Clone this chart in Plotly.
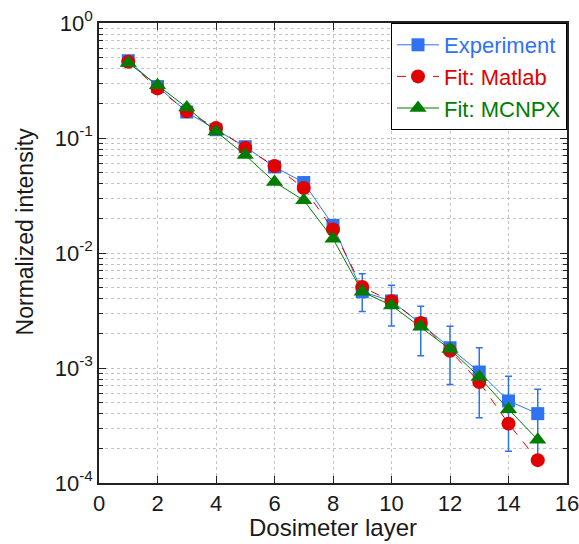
import plotly.graph_objects as go

layers = list(range(1, 16))

experiment = [0.47, 0.28, 0.168, 0.118, 0.084, 0.056, 0.041, 0.0174,
              0.0046, 0.00383, 0.00243, 0.00150, 0.000923, 0.000517, 0.000401]
exp_upper = [None, None, None, None, None, None, None, None,
             0.0066, 0.00524, 0.00344, 0.00231, 0.0015, 0.000847, 0.000653]
exp_lower = [None, None, None, None, None, None, None, None,
             0.0031, 0.00232, 0.00128, 0.00072, 0.00037, 0.000189, 0.00016]

fit_matlab = [0.46, 0.27, 0.171, 0.122, 0.082, 0.057, 0.0367, 0.016,
              0.00506, 0.0038, 0.00246, 0.00141, 0.000756, 0.000328, 0.000158]

fit_mcnpx = [0.45, 0.287, 0.184, 0.114, 0.071, 0.0414, 0.0287, 0.0133,
             0.0046, 0.0035, 0.00228, 0.00146, 0.000835, 0.000437, 0.000238]

y_tickvals = [1e-4, 1e-3, 1e-2, 1e-1, 1]
y_ticktext = ["10<sup>-4</sup>", "10<sup>-3</sup>", "10<sup>-2</sup>",
              "10<sup>-1</sup>", "10<sup>0</sup>"]
x_tickvals = [0, 2, 4, 6, 8, 10, 12, 14, 16]

BLUE = "#2f72f2"
RED = "#e00000"
GREEN = "#007d00"

err_plus = [None if u is None else u - v for u, v in zip(exp_upper, experiment)]
err_minus = [None if l is None else v - l for l, v in zip(exp_lower, experiment)]

fig = go.Figure()
fig.add_trace(go.Scatter(
    x=layers, y=experiment, mode="lines+markers",
    name=f"<span style='color:{BLUE}'>Experiment</span>",
    line=dict(color=BLUE, width=1),
    marker=dict(symbol="square", size=13, color=BLUE),
    error_y=dict(type="data", symmetric=False, array=err_plus, arrayminus=err_minus,
                 color=BLUE, thickness=1.5, width=3.5),
))
fig.add_trace(go.Scatter(
    x=layers, y=fit_matlab, mode="lines+markers",
    name=f"<span style='color:{RED}'>Fit: Matlab</span>",
    line=dict(color=RED, width=1, dash="dash"),
    marker=dict(symbol="circle", size=14, color=RED),
))
fig.add_trace(go.Scatter(
    x=layers, y=fit_mcnpx, mode="lines+markers",
    name=f"<span style='color:{GREEN}'>Fit: MCNPX</span>",
    line=dict(color=GREEN, width=1),
    marker=dict(symbol="triangle-up", size=15, color=GREEN),
))

fig.update_layout(
    width=579, height=544,
    margin=dict(l=99, r=12, t=23, b=61, autoexpand=False),
    paper_bgcolor="white", plot_bgcolor="white",
    font=dict(family="Liberation Sans, Arial, sans-serif", size=21, color="#1a1a1a"),
    showlegend=True,
    legend=dict(
        x=1, y=1, xanchor="right", yanchor="top",
        bgcolor="white", bordercolor="black", borderwidth=1,
        font=dict(size=22), tracegroupgap=0,
        itemwidth=42,
    ),
    annotations=[
        dict(text="Normalized intensity", xref="paper", yref="paper",
             x=-0.159, y=0.546, xanchor="center", yanchor="middle",
             textangle=-90, showarrow=False, font=dict(size=23)),
        dict(text="Dosimeter layer", xref="paper", yref="paper",
             x=0.5, y=-0.097, xanchor="center", yanchor="middle",
             showarrow=False, font=dict(size=24)),
    ],
)

fig.update_xaxes(
    range=[0, 16], tickvals=x_tickvals, automargin=False,
    ticklabeloverflow="allow",
    showline=True, linecolor="#222", linewidth=1.5, mirror="ticks",
    ticks="inside", ticklen=7, tickcolor="#222", tickwidth=1.2,
    showgrid=True, gridcolor="#c4c4c4", griddash="dot", gridwidth=1,
    zeroline=False,
    tickfont=dict(size=22),
)
fig.update_yaxes(
    type="log", range=[-4, 0], tickvals=y_tickvals, ticktext=y_ticktext,
    automargin=False, ticklabeloverflow="allow",
    showline=True, linecolor="#222", linewidth=1.5, mirror="ticks",
    ticks="inside", ticklen=7, tickcolor="#222", tickwidth=1.2,
    showgrid=True, gridcolor="#c4c4c4", griddash="dot", gridwidth=1,
    minor=dict(dtick="D1", ticks="inside", ticklen=4, tickcolor="#222",
               showgrid=True, gridcolor="#c4c4c4", griddash="dot", gridwidth=1),
    zeroline=False,
    tickfont=dict(size=22),
)

fig.write_html("out.html", config={"displayModeBar": False},
               post_script="document.body.style.margin='0';document.body.style.padding='0';")
